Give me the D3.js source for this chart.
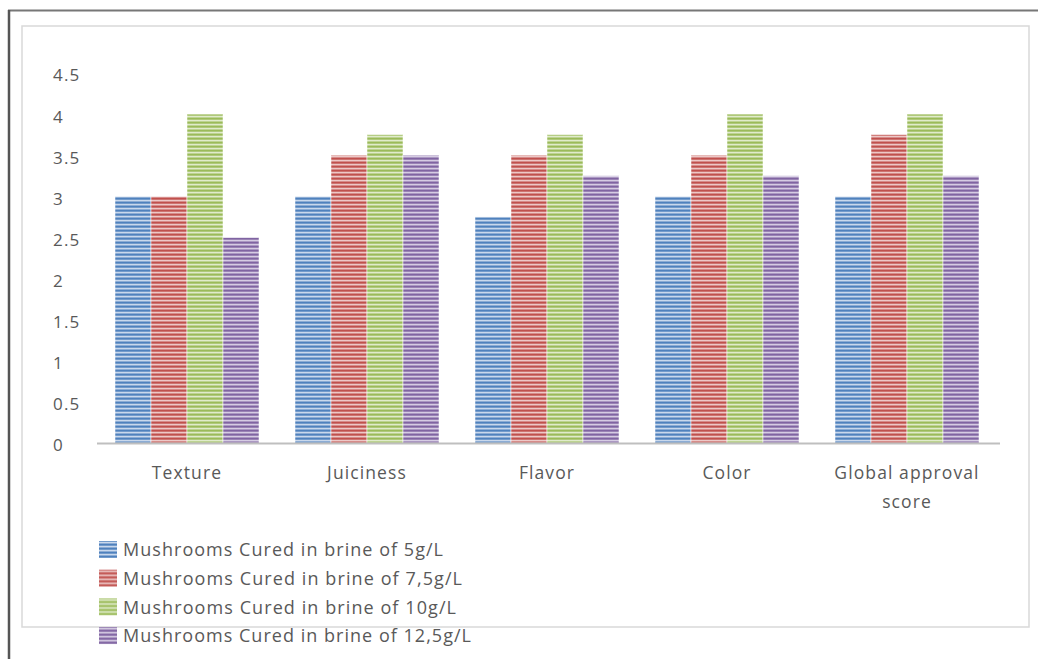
<!DOCTYPE html>
<html>
<head>
<meta charset="utf-8">
<script src="https://cdn.jsdelivr.net/npm/d3@7"></script>
<style>
  html, body { margin: 0; padding: 0; background: #fff; }
  svg { display: block; }
  text { font-family: "Open Sans", "Noto Sans", sans-serif; fill: #595959; }
</style>
</head>
<body>
<svg id="chart" width="1042" height="659"></svg>
<script>
const categories = ["Texture", "Juiciness", "Flavor", "Color", "Global approval score"];
const seriesNames = [
  "Mushrooms Cured in brine of 5g/L",
  "Mushrooms Cured in brine of 7,5g/L",
  "Mushrooms Cured in brine of 10g/L",
  "Mushrooms Cured in brine of 12,5g/L"
];
const brine5 = [3, 3, 2.75, 3, 3];
const brine75 = [3, 3.5, 3.5, 3.5, 3.75];
const brine10 = [4, 3.75, 3.75, 4, 4];
const brine125 = [2.5, 3.5, 3.25, 3.25, 3.25];
const yTicks = [0, 0.5, 1, 1.5, 2, 2.5, 3, 3.5, 4, 4.5];
const colors = ["#4F81BD", "#C0504D", "#9BBB59", "#8064A2"];
const tints = ["#C9D8EC", "#EDC8C7", "#E0EBCB", "#D6CCE3"];

const seriesValues = [brine5, brine75, brine10, brine125];
const legendWidths = [320, 339, 333, 348];

const svg = d3.select("#chart");
const defs = svg.append("defs");
colors.forEach((c, i) => {
  const p = defs.append("pattern")
    .attr("id", "stripe" + i)
    .attr("patternUnits", "userSpaceOnUse")
    .attr("width", 8).attr("height", 4);
  p.append("rect").attr("width", 8).attr("height", 4).attr("fill", tints[i]);
  p.append("rect").attr("y", 1.5).attr("width", 8).attr("height", 2.2).attr("fill", c);
});

// frames
svg.append("rect").attr("x", 22).attr("y", 26).attr("width", 1007).attr("height", 601)
  .attr("fill", "none").attr("stroke", "#D9D9D9").attr("stroke-width", 1.5);
svg.append("line").attr("x1", 8).attr("x2", 1038).attr("y1", 10.5).attr("y2", 10.5)
  .attr("stroke", "#777").attr("stroke-width", 2);
svg.append("line").attr("x1", 9).attr("x2", 9).attr("y1", 10).attr("y2", 659)
  .attr("stroke", "#555").attr("stroke-width", 2.5);

const x0 = d3.scaleBand().domain(categories).range([97, 997]).paddingInner(0.2).paddingOuter(0.1);
const x1 = d3.scaleBand().domain(d3.range(4)).range([0, x0.bandwidth()]);
const y = d3.scaleLinear().domain([0, 4.5]).range([443, 73]);

// y tick labels (left aligned)
svg.append("g").selectAll("text").data(yTicks).join("text")
  .attr("x", 53).attr("y", d => y(d) + 2.5).attr("dy", "0.35em")
  .attr("font-size", 17).attr("letter-spacing", 1.2).text(d => d);

// bars
const gs = svg.append("g").selectAll("g").data(categories).join("g")
  .attr("transform", d => `translate(${x0(d)},0)`);
gs.selectAll("rect").data((d, ci) => seriesValues.map((s, si) => ({ si, v: s[ci] })))
  .join("rect")
  .attr("x", d => x1(d.si))
  .attr("width", x1.bandwidth())
  .attr("y", d => y(d.v))
  .attr("height", d => y(0) - y(d.v))
  .attr("fill", d => `url(#stripe${d.si})`)
  .attr("stroke", "#fff").attr("stroke-opacity", 0.5).attr("stroke-width", 1);

// x axis line
svg.append("line").attr("x1", 97).attr("x2", 1000).attr("y1", 443.5).attr("y2", 443.5)
  .attr("stroke", "#BFBFBF").attr("stroke-width", 2);

// category labels
const labels = svg.append("g").selectAll("text").data(categories).join("text")
  .attr("x", d => x0(d) + x0.bandwidth() / 2)
  .attr("y", 479)
  .attr("text-anchor", "middle").attr("font-size", 17.5).attr("letter-spacing", 1.1);
labels.each(function(d) {
  const t = d3.select(this);
  const lines = d === "Global approval score" ? ["Global approval", "score"] : [d];
  lines.forEach((l, i) => t.append("tspan")
    .attr("x", x0(d) + x0.bandwidth() / 2).attr("dy", i === 0 ? 0 : 29).text(l));
});

// legend
const lg = svg.append("g").selectAll("g").data(seriesNames).join("g")
  .attr("transform", (d, i) => `translate(99, ${550 + i * 28.7})`);
lg.append("rect").attr("x", 0).attr("y", -9).attr("width", 18).attr("height", 17)
  .attr("fill", (d, i) => `url(#stripe${i})`);
lg.append("text").attr("x", 24).attr("y", 0).attr("dy", "0.35em")
  .attr("font-size", 18)
  .attr("textLength", (d, i) => legendWidths[i]).attr("lengthAdjust", "spacing")
  .text(d => d);
</script>
</body>
</html>
